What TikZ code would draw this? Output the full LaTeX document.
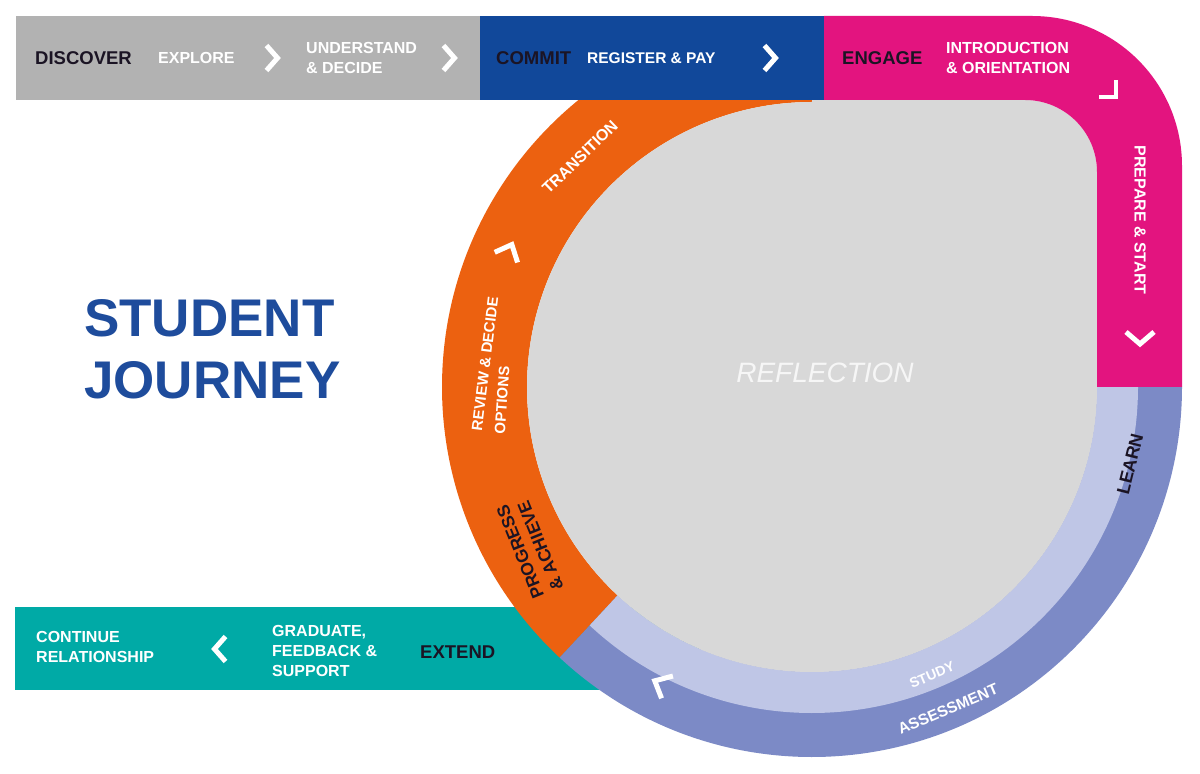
\documentclass[tikz,border=0pt]{standalone}
\usepackage{fontspec}
\setmainfont{Liberation Sans}
\definecolor{barg}{HTML}{B2B2B2}
\definecolor{barb}{HTML}{11489A}
\definecolor{pinkc}{HTML}{E3147F}
\definecolor{orangec}{HTML}{EC6110}
\definecolor{refl}{HTML}{D8D8D8}
\definecolor{ringlight}{HTML}{BFC6E6}
\definecolor{ringdark}{HTML}{7C8AC6}
\definecolor{tealc}{HTML}{00AAA6}
\definecolor{darktxt}{HTML}{1B1424}
\definecolor{titleblue}{HTML}{1E4C9C}
\definecolor{refltxt}{HTML}{F6F6F6}
\begin{document}
\begin{tikzpicture}[x=1pt,y=1pt,
  darklab/.style={font=\fontsize{18.5}{22}\selectfont\bfseries, text=darktxt, inner sep=0},
  wlab/.style={font=\fontsize{16}{20}\selectfont\bfseries, text=white, inner sep=0, align=left},
  chev/.style={draw=white, line width=5pt}]
\useasboundingbox (0,0) rectangle (1200,774);
\fill[white] (0,0) rectangle (1200,774);
% teal bottom bar (under the ring)
\fill[tealc] (15,84) rectangle (700,167);
% ring
\begin{scope}[shift={(812,387)}]
  \fill[orangec] (90:370) arc[start angle=90,end angle=227,radius=370] -- (227:285) arc[start angle=227,end angle=90,radius=285] -- cycle;
  \fill[ringdark] (227:370) arc[start angle=227,end angle=360,radius=370] -- (0:285) arc[start angle=360,end angle=227,radius=285] -- cycle;
  \fill[ringlight] (227:326) arc[start angle=227,end angle=360,radius=326] -- (0:285) arc[start angle=360,end angle=227,radius=285] -- cycle;
  \fill[refl] (0,0) circle (285);
\end{scope}
\fill[refl] (812,387) -- (812,676) -- (1025,676) -- (1025,674) arc[start angle=90,end angle=0,radius=72] -- (1097,387) -- cycle;
% pink corner band
\fill[pinkc] (824,674) -- (824,758) -- (1032,758) arc[start angle=90,end angle=0,radius=150] -- (1182,387) -- (1097,387) -- (1097,602) arc[start angle=0,end angle=90,radius=72] -- cycle;
% top bars
\fill[barg] (16,674) rectangle (480,758);
\fill[barb] (480,674) rectangle (824,758);

% top texts
\node[darklab, anchor=west] (discover) at (35,716) {DISCOVER};
\node[wlab, anchor=west] (explore) at (158,716) {EXPLORE};
\node[wlab, anchor=west] (understand) at (306,716) {UNDERSTAND\\\& DECIDE};
\node[darklab, anchor=west] (commit) at (496,716) {COMMIT};
\node[wlab, anchor=west, font=\fontsize{15.5}{20}\selectfont\bfseries] (register) at (587,716) {REGISTER \& PAY};
\node[darklab, anchor=west] (engage) at (842,716) {ENGAGE};
\node[wlab, anchor=west] (intro) at (946,716) {INTRODUCTION\\\& ORIENTATION};
\node[wlab, rotate=-90] (prepare) at (1140,554) {PREPARE \& START};

% chevrons
\draw[chev, shift={(272,716)}] (-5.5,12.5) -- (5.5,0) -- (-5.5,-12.5);
\draw[chev, shift={(449,716)}] (-5.5,12.5) -- (5.5,0) -- (-5.5,-12.5);
\draw[chev, shift={(770,716)}] (-5.5,12.5) -- (5.5,0) -- (-5.5,-12.5);
\draw[chev, line width=4.5pt, shift={(1116,677)}, rotate=-45] (-12,12) -- (0,0) -- (-12,-12);
\draw[chev, shift={(1140,436)}, rotate=-90] (-6,14) -- (6,0) -- (-6,-14);
\draw[chev, shift={(509,523)}, rotate=66] (-7,12.5) -- (7,0) -- (-7,-12.5);
\draw[chev, shift={(661,90)}, rotate=153] (-7,12.5) -- (7,0) -- (-7,-12.5);
\draw[chev, shift={(220,125)}, rotate=180] (-5.5,12.5) -- (5.5,0) -- (-5.5,-12.5);

% centre and title
\node[font=\fontsize{28}{32}\selectfont\itshape, text=refltxt, inner sep=0] (reflection) at (825,401) {REFLECTION};
\node[font=\fontsize{53}{62}\selectfont\bfseries, text=titleblue, align=left, anchor=west, inner sep=0] (title) at (84,425) {STUDENT\\JOURNEY};

% ring labels
\node[wlab, rotate=44] (transition) at (580,617) {TRANSITION};
\node[wlab, font=\fontsize{15}{18}\selectfont\bfseries, rotate=83] (review) at (485,410) {REVIEW \& DECIDE};
\node[wlab, font=\fontsize{15}{18}\selectfont\bfseries, rotate=86] (options) at (502,374) {OPTIONS};
\node[darklab, font=\fontsize{17.5}{21}\selectfont\bfseries, align=left, rotate=112] (progress) at (530,226) {PROGRESS\\\& ACHIEVE};
\node[darklab, font=\fontsize{18}{21}\selectfont\bfseries, rotate=76] (learn) at (1130,310) {LEARN};
\node[wlab, font=\fontsize{14}{17}\selectfont\bfseries, rotate=23] (study) at (932,99) {STUDY};
\node[wlab, font=\fontsize{15.5}{18}\selectfont\bfseries, rotate=23] (assessment) at (948,65) {ASSESSMENT};

% bottom texts
\node[wlab, anchor=west] (continue) at (36,127) {CONTINUE\\RELATIONSHIP};
\node[wlab, anchor=west] (graduate) at (272,123) {GRADUATE,\\FEEDBACK \&\\SUPPORT};
\node[darklab, anchor=west] (extend) at (420,122) {EXTEND};
\end{tikzpicture}
\end{document}
